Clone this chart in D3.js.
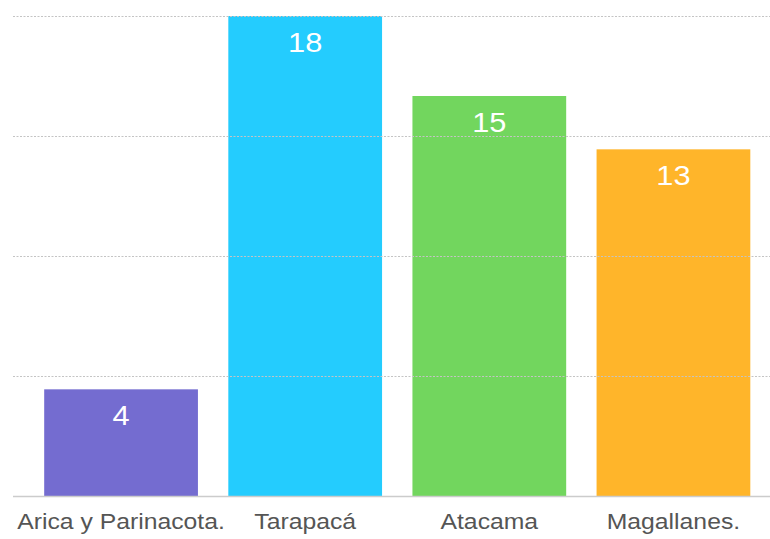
<!DOCTYPE html>
<html><head><meta charset="utf-8">
<script src="https://cdn.jsdelivr.net/npm/d3@7/dist/d3.min.js"></script>
<style>body{margin:0;background:#fff}svg{display:block}</style>
</head><body>
<script>
const categories = ["Arica y Parinacota.", "Tarapacá", "Atacama", "Magallanes."];
const values = [4, 18, 15, 13];
const colors = ["#746cd0", "#24ccfe", "#72d65e", "#ffb52a"];
const gridTicks = [4.5, 9, 13.5, 18];

const W = 770, H = 539;
const svg = d3.select("body").append("svg").attr("width", W).attr("height", H);
const x = d3.scaleBand().domain(categories).range([29, 765.5]).paddingInner(0.165).paddingOuter(0.0825);
const y = d3.scaleLinear().domain([0, 18]).range([496, 16]);
const font = "Liberation Sans, Arial, Helvetica, sans-serif";

svg.append("g").selectAll("rect").data(values).join("rect")
  .attr("x", (d, i) => x(categories[i]))
  .attr("width", x.bandwidth())
  .attr("y", d => y(d))
  .attr("height", d => y(0) - y(d))
  .attr("fill", (d, i) => colors[i]);

svg.append("g").selectAll("line").data(gridTicks).join("line")
  .attr("x1", 13).attr("x2", W)
  .attr("y1", d => y(d) + 0.5).attr("y2", d => y(d) + 0.5)
  .attr("stroke", "#c4c4c4").attr("stroke-width", 1).attr("stroke-dasharray", "2,1.5");

svg.append("line").attr("x1", 13).attr("x2", W)
  .attr("y1", y(0) + 0.5).attr("y2", y(0) + 0.5)
  .attr("stroke", "#cccccc").attr("stroke-width", 1.5);

svg.append("g").selectAll("text").data(values).join("text")
  .attr("transform", (d, i) => `translate(${x(categories[i]) + x.bandwidth() / 2},${y(d) + 36}) scale(1.14,1)`)
  .attr("text-anchor", "middle")
  .attr("font-family", font)
  .attr("font-size", 27)
  .attr("fill", "#ffffff")
  .text(d => d);

const xAxis = d3.axisBottom(x).tickSize(0).tickPadding(0);
const gx = svg.append("g").attr("transform", `translate(0,${y(0)})`).call(xAxis);
gx.select(".domain").remove();
gx.selectAll(".tick text")
  .attr("dy", null).attr("y", null)
  .attr("transform", "translate(0,33) scale(1.125,1)")
  .attr("font-family", font)
  .attr("font-size", 22).attr("fill", "#555555");
</script>
</body></html>
